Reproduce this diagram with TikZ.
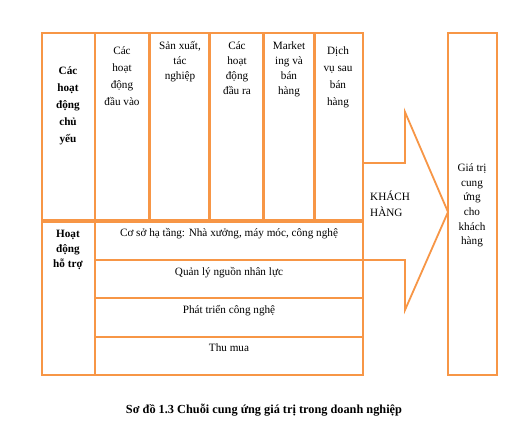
\documentclass[tikz,border=0pt]{standalone}
\usepackage{fontspec}
\setmainfont{Liberation Serif}
\definecolor{boxorange}{HTML}{F79646}
\tikzset{
  ob/.style={draw=boxorange, line width=1.8pt},
  lbl/.style={align=center, inner sep=0pt, anchor=north},
  tA/.style={font=\fontsize{11.2}{17}\selectfont},
  tB/.style={font=\fontsize{11.2}{15}\selectfont},
}
\begin{document}
\begin{tikzpicture}[x=1pt,y=-1pt]
\useasboundingbox[fill=white] (0,0) rectangle (507,421);
% primary activity columns
\draw[ob] (42,33) rectangle (94.5,220);
\draw[ob] (95.5,33) rectangle (149,220);
\draw[ob] (150.5,33) rectangle (209,220);
\draw[ob] (210.5,33) rectangle (263,220);
\draw[ob] (264.5,33) rectangle (314,220);
\draw[ob] (315.5,33) rectangle (363,220);
% support activities
\draw[ob] (42,222) rectangle (94.5,375);
\draw[ob] (95.5,222) rectangle (363,260);
\draw[ob] (95.5,260) rectangle (363,298);
\draw[ob] (95.5,298) rectangle (363,337);
\draw[ob] (95.5,337) rectangle (363,375);
% arrow
\draw[ob, line join=miter] (363,163) -- (405,163) -- (405,112) -- (448,212) -- (405,310) -- (405,260) -- (363,260);
% right box
\draw[ob] (448,33) rectangle (497,375);
% texts
\node[lbl,tA,font=\bfseries\fontsize{11.2}{17}\selectfont] (n1) at (68,66.5) {Các\\hoạt\\động\\chủ\\yếu};
\node[lbl,tA] (n2) at (122,46.5) {Các\\hoạt\\động\\đầu vào};
\node[lbl,tB] (n3) at (180,41.5) {Sản xuất,\\tác\\nghiệp};
\node[lbl,tB] (n4) at (237,41.5) {Các\\hoạt\\động\\đầu ra};
\node[lbl,tB] (n5) at (289,41.5) {Market\\ing và\\bán\\hàng};
\node[lbl,tA] (n6) at (338,46.5) {Dịch\\vụ sau\\bán\\hàng};
\node[lbl,tB,font=\bfseries\fontsize{11.2}{15}\selectfont] (s0) at (68,229.5) {Hoạt\\động\\hỗ trợ};
\node[tB,inner sep=0pt] (s1) at (229,234) {Cơ sở hạ tầng: Nhà xưởng, máy móc, công nghệ};
\node[tB,inner sep=0pt] (s2) at (229,273) {Quản lý nguồn nhân lực};
\node[tB,inner sep=0pt] (s3) at (229,311) {Phát triển công nghệ};
\node[tB,inner sep=0pt] (s4) at (229,348) {Thu mua};
\node[tB,align=left,inner sep=0pt,anchor=north west,font=\fontsize{11.2}{16}\selectfont] (kh) at (370,190.5) {KHÁCH\\HÀNG};
\node[lbl,font=\fontsize{11.2}{14.7}\selectfont] (gt) at (472,163.5) {Giá trị\\cung\\ứng\\cho\\khách\\hàng};
\node[inner sep=0pt,font=\bfseries\fontsize{12.3}{14}\selectfont] (cap) at (264,410) {Sơ đồ 1.3 Chuỗi cung ứng giá trị trong doanh nghiệp};
\end{tikzpicture}
\end{document}
